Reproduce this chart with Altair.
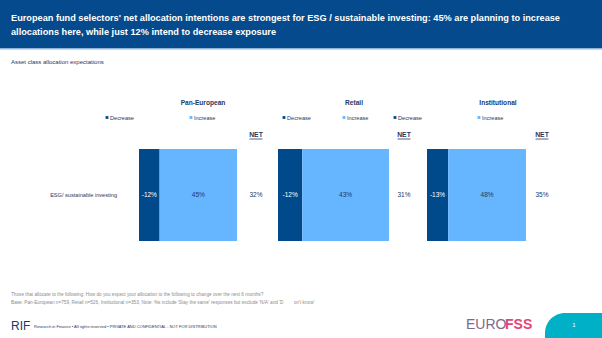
import altair as alt
import pandas as pd

# ---- data ----
panels = ["Pan-European", "Retail", "Institutional"]
decrease = [-12, -12, -13]
increase = [45, 43, 48]
net = [32, 31, 35]
category = "ESG/ sustainable investing"
segments = ["Decrease", "Increase"]

title_lines = [
    "European fund selectors' net allocation intentions are strongest for ESG / sustainable investing: 45% are planning to increase",
    "allocations here, while just 12% intend to decrease exposure",
]
subtitle = "Asset class allocation expectations"
foot_lines = [
    "Those that allocate to the following: How do you expect your allocation to the following to change over the next 6 months?",
    "Base: Pan-European n=759, Retail n=526, Institutional n=353, Note: %s include 'Stay the same' responses but exclude 'N/A' and 'D"
    + "\u00a0" * 8 + "on't know'",
]
footer_text = "Research in Finance \u2022 All rights reserved \u2022 PRIVATE AND CONFIDENTIAL - NOT FOR DISTRIBUTION"

# ---- style ----
FONT = "Liberation Sans, Arial"
NAVY = "#1F3864"
DEC_C = "#004A8C"
INC_C = "#66B5FF"
HEADER_C = "#044A8C"

panel_ranges = [[139, 237], [278, 389], [427, 526]]
panel_title_x = [203, 354, 498]
net_x = [256, 404, 542]
legend_x = [[107, 191], [284, 344], [395, 479]]

yscale = alt.Scale(domain=[category], range=[149, 241], paddingInner=0, paddingOuter=0)
color_scale = alt.Scale(domain=segments, range=[DEC_C, INC_C])


def one(**kw):
    return pd.DataFrame([kw])


layers = []

# header
layers.append(alt.Chart(one(a=1)).mark_rect(color=HEADER_C).encode(
    x=alt.value(0), x2=alt.value(602), y=alt.value(0), y2=alt.value(48)))
layers.append(alt.Chart(one(a=1)).mark_rect(color="#8FB3D9").encode(
    x=alt.value(0), x2=alt.value(602), y=alt.value(48), y2=alt.value(49.5)))
for i, line in enumerate(title_lines):
    layers.append(alt.Chart(one(t=line)).mark_text(
        font=FONT, fontSize=9.2, fontWeight="bold", color="white", align="left", baseline="middle"
    ).encode(x=alt.value(11), y=alt.value(17.5 + i * 14), text="t:N"))

layers.append(alt.Chart(one(t=subtitle)).mark_text(
    font=FONT, fontSize=6, color=NAVY, align="left", baseline="middle"
).encode(x=alt.value(11), y=alt.value(62), text="t:N"))

# panels
panel_layers = []
for p, name in enumerate(panels):
    df = pd.DataFrame({
        "cat": [category, category],
        "seg": segments,
        "start": [decrease[p], 0],
        "end": [0, increase[p]],
        "lab": [f"{decrease[p]}%", f"{increase[p]}%"],
    })
    xs = alt.Scale(domain=[decrease[p], increase[p]], range=panel_ranges[p], nice=False, zero=False)
    base = alt.Chart(df)
    bars = base.mark_bar().encode(
        x=alt.X("start:Q", scale=xs, axis=None),
        x2="end:Q",
        y=alt.Y("cat:N", scale=yscale, axis=None),
        color=alt.Color("seg:N", scale=color_scale, legend=None),
    )
    labels = base.transform_calculate(mid="(datum.start + datum.end) / 2").mark_text(
        font=FONT, fontSize=6.5, baseline="middle", align="center"
    ).encode(
        x=alt.X("mid:Q", scale=xs, axis=None),
        y=alt.Y("cat:N", scale=yscale, axis=None),
        text="lab:N",
        color=alt.condition(alt.datum.seg == "Decrease", alt.value("white"), alt.value(NAVY)),
    )
    panel_layers.append(alt.layer(bars, labels))

    # net value
    layers.append(alt.Chart(pd.DataFrame({"cat": [category], "v": [f"{net[p]}%"]})).mark_text(
        font=FONT, fontSize=6.5, color=NAVY, align="center", baseline="middle"
    ).encode(x=alt.value(net_x[p]), y=alt.Y("cat:N", scale=yscale, axis=None), text="v:N"))
    # panel title
    layers.append(alt.Chart(one(t=name)).mark_text(
        font=FONT, fontSize=6.6, fontWeight="bold", color=NAVY, align="center", baseline="middle"
    ).encode(x=alt.value(panel_title_x[p]), y=alt.value(103), text="t:N"))
    # NET header + underline
    layers.append(alt.Chart(one(t="NET")).mark_text(
        font=FONT, fontSize=6.8, fontWeight="bold", color=NAVY, align="center", baseline="middle"
    ).encode(x=alt.value(net_x[p]), y=alt.value(134.5), text="t:N"))
    layers.append(alt.Chart(one(a=1)).mark_rule(color=NAVY, strokeWidth=0.8).encode(
        x=alt.value(net_x[p] - 6.5), x2=alt.value(net_x[p] + 6.5), y=alt.value(139)))
    # legend
    for s, seg in enumerate(segments):
        lx = legend_x[p][s]
        layers.append(alt.Chart(one(seg=seg)).mark_square(size=8, opacity=1).encode(
            x=alt.value(lx), y=alt.value(117.5),
            color=alt.Color("seg:N", scale=color_scale, legend=None)))
        layers.append(alt.Chart(one(t=seg)).mark_text(
            font=FONT, fontSize=5.6, color=NAVY, align="left", baseline="middle"
        ).encode(x=alt.value(lx + 3), y=alt.value(117.5), text="t:N"))

# category label
layers.append(alt.Chart(pd.DataFrame({"cat": [category]})).mark_text(
    font=FONT, fontSize=5.6, color=NAVY, align="right", baseline="middle"
).encode(x=alt.value(117), y=alt.Y("cat:N", scale=yscale, axis=None), text="cat:N"))

# footnotes
for i, line in enumerate(foot_lines):
    layers.append(alt.Chart(one(t=line)).mark_text(
        font=FONT, fontSize=4.7, color="#8C8C8C", align="left", baseline="middle"
    ).encode(x=alt.value(11), y=alt.value(294.5 + i * 8.5), text="t:N"))

layers.append(alt.Chart(one(t="RIF")).mark_text(
    font=FONT, fontSize=12, color=NAVY, align="left", baseline="middle"
).encode(x=alt.value(11), y=alt.value(326), text="t:N"))
layers.append(alt.Chart(one(t=footer_text)).mark_text(
    font=FONT, fontSize=4, color=NAVY, align="left", baseline="middle"
).encode(x=alt.value(34), y=alt.value(326.5), text="t:N"))

layers.append(alt.Chart(one(t="EURO")).mark_text(
    font="Liberation Sans", fontSize=14, color="#7D6890", align="left", baseline="middle"
).encode(x=alt.value(466), y=alt.value(325), text="t:N"))
layers.append(alt.Chart(one(t="FSS")).mark_text(
    font="Liberation Sans", fontSize=14, fontWeight="bold", color="#E0457B", align="left", baseline="middle"
).encode(x=alt.value(505), y=alt.value(325), text="t:N"))
layers.append(alt.Chart(one(a=1)).mark_rect(color="#00B0C6", cornerRadiusTopLeft=20).encode(
    x=alt.value(545), x2=alt.value(630), y=alt.value(313), y2=alt.value(360)))
layers.append(alt.Chart(one(t="1")).mark_text(
    font=FONT, fontSize=6, color="white", align="center", baseline="middle"
).encode(x=alt.value(574), y=alt.value(325), text="t:N"))

chart = alt.layer(*panel_layers, *layers).resolve_scale(x="independent").properties(
    width=602, height=338, autosize="none", padding=0, background="white"
).configure_view(strokeWidth=0)

chart.save("out.html", embed_options={"renderer": "svg", "actions": False})
